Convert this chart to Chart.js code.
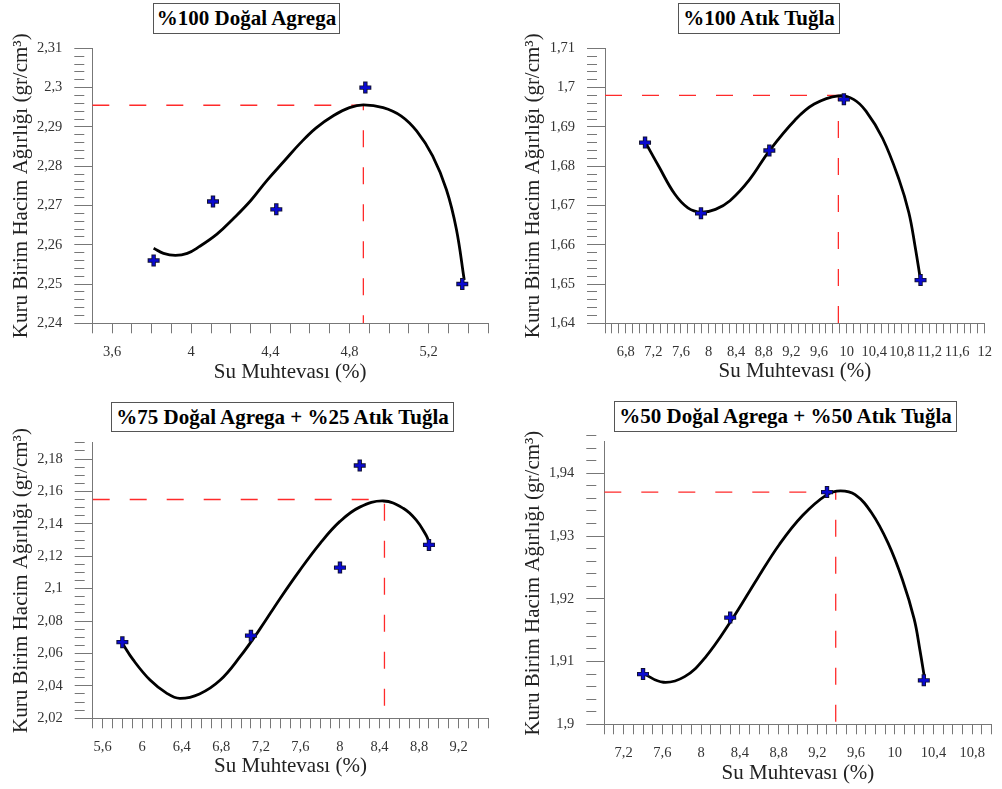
<!DOCTYPE html>
<html>
<head>
<meta charset="utf-8">
<script src="https://cdn.jsdelivr.net/npm/chart.js@4.4.0/dist/chart.umd.min.js"></script>
<style>
  html, body { margin: 0; padding: 0; background: #fff; }
  #page { position: relative; width: 1002px; height: 789px; overflow: hidden; }
  canvas { position: absolute; }
  .box {
    position: absolute; box-sizing: border-box; border: 1px solid #555; background: #fff;
    font-weight: bold; font-size: 21px; color: #000; white-space: nowrap;
    font-family: "Liberation Serif", serif;
    display: flex; align-items: center; justify-content: center;
  }
</style>
</head>
<body>
<div id="page">
  <canvas id="c1" width="500" height="390" style="left:0;top:0"></canvas>
  <canvas id="c2" width="502" height="390" style="left:500px;top:0"></canvas>
  <canvas id="c3" width="500" height="399" style="left:0;top:390px"></canvas>
  <canvas id="c4" width="502" height="399" style="left:500px;top:390px"></canvas>
  <div class="box" style="left:153px;top:3px;width:187px;height:31px">%100 Doğal Agrega</div>
  <div class="box" style="left:678px;top:3px;width:162px;height:31px">%100 Atık Tuğla</div>
  <div class="box" style="left:111px;top:402px;width:343px;height:30px">%75 Doğal Agrega + %25 Atık Tuğla</div>
  <div class="box" style="left:614px;top:401px;width:343px;height:31px">%50 Doğal Agrega + %50 Atık Tuğla</div>
</div>
<script>
var yTitle = 'Kuru Birim Hacim Ağırlığı (gr/cm³)';
var xTitle = 'Su Muhtevası (%)';

// %100 Doğal Agrega
var p1Water = [3.81, 4.11, 4.43, 4.88, 5.37];
var p1Density = [2.256, 2.271, 2.269, 2.300, 2.250];
var p1CurveX = [3.81, 3.86, 3.92, 3.98, 4.04, 4.13, 4.21, 4.30, 4.38, 4.47, 4.55, 4.63, 4.72, 4.80, 4.87, 4.97, 5.06, 5.14, 5.22, 5.29, 5.34, 5.38];
var p1CurveY = [2.2591, 2.2578, 2.2573, 2.2578, 2.2595, 2.2627, 2.2665, 2.2712, 2.2762, 2.2813, 2.2858, 2.2897, 2.2929, 2.2949, 2.2956, 2.2949, 2.2928, 2.2889, 2.2826, 2.2740, 2.2640, 2.2510];
var p1PeakX = 4.87, p1PeakY = 2.2955;
var p1XLabels = [3.6, 4, 4.4, 4.8, 5.2];
var p1YLabels = [2.24, 2.25, 2.26, 2.27, 2.28, 2.29, 2.3, 2.31];

// %100 Atık Tuğla
var p2Water = [7.08, 7.89, 8.88, 9.96, 11.07];
var p2Density = [1.686, 1.668, 1.684, 1.697, 1.651];
var p2CurveX = [7.08, 7.28, 7.51, 7.70, 7.89, 8.10, 8.31, 8.59, 8.88, 9.25, 9.53, 9.88, 10.10, 10.28, 10.52, 10.76, 10.90, 10.99, 11.07];
var p2CurveY = [1.6862, 1.6799, 1.6729, 1.6694, 1.6683, 1.6690, 1.6712, 1.6765, 1.6839, 1.6917, 1.6958, 1.6979, 1.6970, 1.6940, 1.6871, 1.6765, 1.6682, 1.6597, 1.6510];
var p2PeakX = 9.88, p2PeakY = 1.698;
var p2XLabels = [6.8, 7.2, 7.6, 8, 8.4, 8.8, 9.2, 9.6, 10, 10.4, 10.8, 11.2, 11.6, 12];
var p2YLabels = [1.64, 1.65, 1.66, 1.67, 1.68, 1.69, 1.7, 1.71];

// %75 Doğal Agrega + %25 Atık Tuğla
var p3Water = [5.8, 7.1, 8.0, 8.2, 8.9];
var p3Density = [2.067, 2.071, 2.113, 2.176, 2.127];
var p3CurveX = [5.80, 5.91, 6.08, 6.25, 6.38, 6.58, 6.79, 6.99, 7.19, 7.39, 7.59, 7.80, 8.00, 8.20, 8.44, 8.64, 8.77, 8.87, 8.90];
var p3CurveY = [2.0663, 2.0560, 2.0436, 2.0354, 2.0323, 2.0350, 2.0436, 2.0580, 2.0750, 2.0935, 2.1110, 2.1280, 2.1415, 2.1503, 2.1541, 2.1496, 2.1424, 2.1331, 2.1290];
var p3PeakX = 8.45, p3PeakY = 2.155;
var p3XLabels = [5.6, 6, 6.4, 6.8, 7.2, 7.6, 8, 8.4, 8.8, 9.2];
var p3YLabels = [2.02, 2.04, 2.06, 2.08, 2.1, 2.12, 2.14, 2.16, 2.18];

// %50 Doğal Agrega + %50 Atık Tuğla
var p4Water = [7.4, 8.3, 9.3, 10.3];
var p4Density = [1.908, 1.917, 1.937, 1.907];
var p4CurveX = [7.40, 7.61, 7.83, 8.04, 8.31, 8.58, 8.81, 9.05, 9.30, 9.44, 9.59, 9.76, 9.93, 10.08, 10.20, 10.26, 10.31];
var p4CurveY = [1.9081, 1.9067, 1.9076, 1.9106, 1.9165, 1.9232, 1.9287, 1.9333, 1.9366, 1.9372, 1.9366, 1.9337, 1.9289, 1.9230, 1.9168, 1.9118, 1.9071];
var p4PeakX = 9.39, p4PeakY = 1.937;
var p4XLabels = [7.2, 7.6, 8, 8.4, 8.8, 9.2, 9.6, 10, 10.4, 10.8];
var p4YLabels = [1.9, 1.91, 1.92, 1.93, 1.94];

var serif = '"Liberation Serif", serif';

function toPoints(xs, ys) {
    return xs.map(function (x, i) { return { x: x, y: ys[i] }; });
}

function stepTicks(min, max, step) {
    var ticks = [];
    var n = Math.round((max - min) / step);
    for (var i = 0; i <= n; i++) {
        ticks.push({ value: +(min + i * step).toFixed(6) });
    }
    return ticks;
}

function hasLabel(list, v) {
    return list.some(function (l) { return Math.abs(l - v) < 1e-6; });
}

function fmt(v) {
    return String(+v.toFixed(4)).replace('.', ',');
}

function makePanel(id, p) {
    var ctx = document.getElementById(id).getContext('2d');
    return new Chart(ctx, {
        type: 'scatter',
        data: {
            datasets: [{
                data: toPoints(p.water, p.density),
                pointStyle: 'cross',
                pointRadius: 5,
                borderColor: '#0a0ad0',
                borderWidth: 2.6,
                order: 1
            }, {
                data: toPoints(p.water, p.density),
                pointStyle: 'cross',
                pointRadius: 6,
                borderColor: '#101030',
                borderWidth: 4.4,
                order: 2
            }, {
                data: toPoints(p.curveX, p.curveY),
                showLine: true,
                pointRadius: 0,
                borderColor: '#000',
                borderWidth: 2.8,
                tension: 0.4,
                order: 3
            }, {
                // guide lines to the optimum
                data: [{ x: p.xMin, y: p.peakY }, { x: p.peakX, y: p.peakY }, { x: p.peakX, y: p.yMin }],
                showLine: true,
                pointRadius: 0,
                borderColor: '#ff2a2a',
                borderWidth: 1.3,
                borderDash: [17, 20],
                order: 4
            }]
        },
        options: {
            responsive: false,
            animation: false,
            events: [],
            layout: { padding: { top: p.padTop, right: p.padRight, left: 0, bottom: 0 } },
            plugins: { legend: { display: false }, tooltip: { enabled: false } },
            scales: {
                x: {
                    type: 'linear',
                    min: p.xMin,
                    max: p.xMax,
                    afterBuildTicks: function (s) { s.ticks = stepTicks(p.xMin, p.xMax, 0.1); },
                    afterFit: function (s) { s.height = p.xH; },
                    grid: { drawOnChartArea: false, tickLength: 10, tickColor: '#777', tickWidth: 1 },
                    border: { color: '#777', width: 1 },
                    ticks: {
                        autoSkip: false, maxRotation: 0, minRotation: 0, padding: 10,
                        color: '#333', font: { family: serif, size: 14.5 },
                        callback: function (v) { return hasLabel(p.xLabels, v) ? fmt(v) : ''; }
                    },
                    title: {
                        display: true, text: xTitle, color: '#222',
                        font: { family: serif, size: 21 },
                        padding: { top: 0, bottom: p.xTitlePad }
                    }
                },
                y: {
                    min: p.yMin,
                    max: p.yMax,
                    afterBuildTicks: function (s) { s.ticks = stepTicks(p.yMin, p.yMax, p.yStep); },
                    afterFit: function (s) { s.width = p.yW; },
                    grid: {
                        drawOnChartArea: false, tickLength: 18, tickColor: '#777', tickWidth: 1,
                        tickBorderDash: function (c) {
                            return c.tick && hasLabel(p.yLabels, c.tick.value) ? [] : [10, 40];
                        }
                    },
                    border: { color: '#777', width: 1 },
                    ticks: {
                        autoSkip: false, padding: 12,
                        color: '#333', font: { family: serif, size: 14.5 },
                        callback: function (v) { return hasLabel(p.yLabels, v) ? fmt(v) : ''; }
                    },
                    title: {
                        display: true, text: yTitle, color: '#222',
                        font: { family: serif, size: 21 },
                        padding: { top: p.yTitlePad, bottom: 0 }
                    }
                }
            }
        }
    });
}

makePanel('c1', {
    water: p1Water, density: p1Density, curveX: p1CurveX, curveY: p1CurveY,
    peakX: p1PeakX, peakY: p1PeakY, xLabels: p1XLabels, yLabels: p1YLabels,
    xMin: 3.5, xMax: 5.5, yMin: 2.24, yMax: 2.31, yStep: 0.002,
    padTop: 48.3, padRight: 12, yW: 92.3, xH: 66.7, yTitlePad: 9, xTitlePad: 4.7
});
makePanel('c2', {
    water: p2Water, density: p2Density, curveX: p2CurveX, curveY: p2CurveY,
    peakX: p2PeakX, peakY: p2PeakY, xLabels: p2XLabels, yLabels: p2YLabels,
    xMin: 6.5, xMax: 12, yMin: 1.64, yMax: 1.71, yStep: 0.002,
    padTop: 48.3, padRight: 7, yW: 105, xH: 66.7, yTitlePad: 20.7, xTitlePad: 5.7
});
makePanel('c3', {
    water: p3Water, density: p3Density, curveX: p3CurveX, curveY: p3CurveY,
    peakX: p3PeakX, peakY: p3PeakY, xLabels: p3XLabels, yLabels: p3YLabels,
    xMin: 5.5, xMax: 9.5, yMin: 2.02, yMax: 2.19, yStep: 0.005,
    padTop: 52.8, padRight: 11.7, yW: 92.7, xH: 70.7, yTitlePad: 9, xTitlePad: 9.7
});
makePanel('c4', {
    water: p4Water, density: p4Density, curveX: p4CurveX, curveY: p4CurveY,
    peakX: p4PeakX, peakY: p4PeakY, xLabels: p4XLabels, yLabels: p4YLabels,
    xMin: 7, xMax: 11, yMin: 1.9, yMax: 1.945, yStep: 0.002,
    padTop: 51.9, padRight: 2.5, yW: 104.3, xH: 64.7, yTitlePad: 20.7, xTitlePad: 3.1
});
</script>
</body>
</html>
